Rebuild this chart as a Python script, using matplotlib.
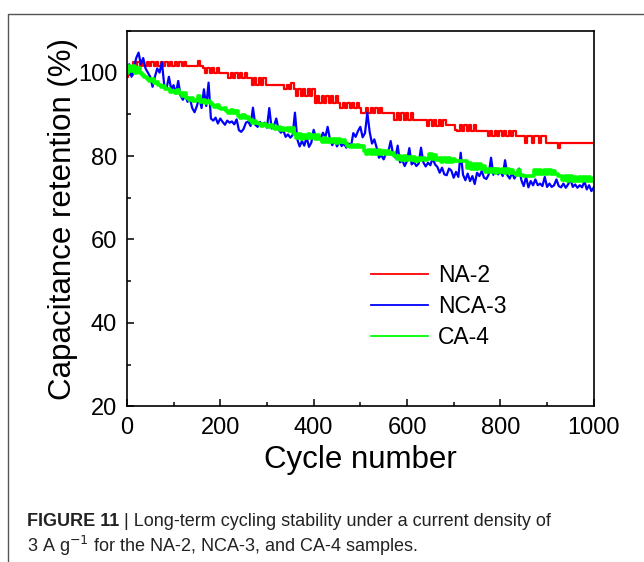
import matplotlib.pyplot as plt
import numpy as np
from matplotlib.lines import Line2D
from matplotlib.ticker import MultipleLocator

plt.rcParams['font.family'] = ['Liberation Sans', 'DejaVu Sans']

# cycle number, read every 5 cycles
cycles = np.arange(0, 1001, 5)

na2 = [
    99, 101, 99.5, 102.5, 101.5, 102.5, 101.5, 102.5, 101.5, 102.5,
    101.5, 102.5, 101.5, 102.5, 101.5, 102.5, 101.5, 102.5, 101.5, 102.5,
    101.5, 102.5, 101.5, 102.5, 101.5, 102.5, 101.5, 101.7, 101.7, 101.7,
    101.7, 102.8, 101.7, 101.2, 100, 101.2, 100, 101.2, 100, 101.2,
    100, 100, 100, 100, 98.6, 100, 98.6, 100, 98.6, 100,
    98.6, 100, 98.6, 98.6, 97, 98.6, 97, 98.6, 97, 98.6,
    97, 97.1, 97.1, 97.1, 97.1, 97.1, 97.1, 97.1, 96, 97,
    96, 97.6, 96, 94.5, 96, 94.5, 96, 94.5, 96, 94.5,
    96, 92.8, 94.5, 92.8, 94.5, 92.8, 94.5, 92.8, 94.5, 92.8,
    94.5, 92.8, 91.6, 92.8, 91.6, 92.8, 91.6, 92.8, 91.6, 92.8,
    91.6, 90.3, 90.4, 91.6, 90.4, 91.6, 90.4, 91.6, 90.4, 91.6,
    90.4, 90.4, 90.4, 90.4, 90.4, 88.7, 90.4, 88.7, 90.4, 88.7,
    90.4, 88.7, 90.4, 88.7, 88.7, 88.7, 88.7, 88.7, 88.7, 87.3,
    88.7, 87.3, 88.7, 87.3, 88.7, 87.3, 88.7, 87.5, 87.5, 87.5,
    87.5, 86.3, 85.9, 87.5, 85.9, 87.5, 85.9, 87.5, 85.9, 87.5,
    85.9, 85.9, 85.9, 85.9, 85.9, 84.7, 85.9, 84.7, 85.9, 84.7,
    85.9, 84.7, 85.9, 84.7, 85.9, 84.7, 85.9, 84.7, 84.7, 84.7,
    84.7, 83.2, 84.7, 84.7, 83.2, 84.7, 84.7, 83.2, 84.7, 84.7,
    83.2, 83.2, 83.2, 83.2, 83.2, 82, 83.2, 83.2, 83.2, 83.2,
    83.2, 83.2, 83.2, 83.2, 83.2, 83.2, 83.2, 83.2, 83.2, 83.2,
    83.2,
]

nca3 = [
    100.5, 102, 99, 101, 103.5, 104.8, 102, 103.5, 101, 100,
    99, 96.6, 99, 101, 100, 102.5, 97, 96.2, 99, 96,
    97, 95, 98, 94.5, 93.5, 94.5, 93, 93.8, 91.5, 90.5,
    92, 94, 91.5, 96, 92, 97.6, 89, 88.5, 89.2, 87.8,
    89, 88.2, 87.5, 88.5, 88, 88.3, 87.6, 88.8, 86.2, 85.8,
    86.5, 88, 88.3, 87.2, 91.6, 87.5, 87, 88.2, 87.2, 88,
    86.8, 91.5, 86.6, 87.2, 89, 86.3, 85.6, 86.2, 84.6, 85.2,
    84.4, 85, 90.4, 84, 82.3, 83.6, 82.5, 84.5, 82.2, 83.2,
    86.3, 84.4, 85, 84.2, 85.6, 84.5, 87, 84, 82.6, 84,
    82.3, 83.5, 82.4, 83, 82, 83, 82.3, 85.5, 84.6, 86,
    87, 84.5, 85.5, 90.4, 85.8, 83, 84, 82, 79.6, 80.2,
    79.2, 80.7, 81, 83.6, 80.5, 79.6, 82.5, 78.5, 79, 77.6,
    78.8, 81.9, 78, 78.6, 77.6, 78.2, 82, 78.5, 77.5, 78.4,
    77.8, 79.5, 78, 77.4, 76, 77.2, 75.6, 75.4, 77, 76.5,
    74.8, 76.2, 75, 80.8, 75.5, 74.2, 75.8, 74, 75.2, 73.3,
    76, 75.2, 76.4, 74.8, 74.5, 75.6, 79.6, 75.5, 77, 75.6,
    76.4, 75.2, 79, 75.4, 74.6, 76, 74.6, 75.6, 77, 74.2,
    72.8, 75, 72.5, 74, 73, 74.4, 73, 73.4, 72.8, 75,
    72.6, 73.4, 72.6, 73, 74.4, 72.8, 72.5, 73.4, 72.4, 73.2,
    74.5, 72.6, 73.2, 72.4, 73, 72.5, 74, 72, 73, 71.6,
    72.5,
]

ca4 = [
    100, 101.5, 100.5, 101.5, 100, 101, 100, 99.5, 99, 98.5,
    98, 98.5, 97.5, 97.8, 97, 96.5, 96.8, 96, 96, 95.3,
    95.5, 95.2, 95.8, 95.2, 94.5, 95, 94, 93.5, 93.8, 93.2,
    93.5, 94.5, 93, 93.5, 92.8, 93.3, 92.8, 92.2, 91.8, 92.3,
    91.6, 91.2, 91.6, 90.8, 90.4, 91, 90.4, 90.8, 89.6, 89.2,
    89.8, 89.2, 89.4, 88.6, 88, 88.5, 88, 87.8, 87.3, 87.8,
    87.2, 87, 87.5, 86.8, 86.6, 87, 86.3, 86.7, 86.3, 86.8,
    86, 86.8, 85.2, 84.4, 85.4, 84.2, 85, 84.4, 85.2, 84.3,
    85, 84.2, 85, 84, 83.4, 84.3, 83.3, 84.2, 83.3, 84.1,
    83.2, 84, 83.3, 83.8, 83.2, 82.5, 82.1, 82.7, 82.2, 82.6,
    82.1, 82.5, 81.3, 80.6, 81.5, 80.5, 81.4, 80.4, 81.4, 80.5,
    81.3, 80.4, 81.2, 80.4, 80.8, 80, 79.2, 80, 79.1, 79.9,
    79, 79.8, 79, 79.7, 78.9, 79.6, 79, 79.6, 79, 79.4,
    80.5, 79.2, 80.3, 79, 79.6, 78.5, 79.5, 78.6, 79.5, 78.5,
    79.4, 78.7, 78.7, 78.7, 78.7, 78.7, 77.2, 78.4, 76.8, 78.2,
    77, 78, 76.8, 77.5, 76.2, 77, 76.1, 76.9, 76, 76.9,
    76.1, 76.8, 76, 76.8, 76, 76.7, 76, 75.5, 76.7, 75.4,
    75.3, 75.3, 75.3, 75.3, 75.3, 76.7, 75.7, 76.7, 75.7, 76.7,
    75.7, 76.6, 75.7, 76.5, 75.7, 75.3, 75.3, 74.2, 75.2, 74,
    75.1, 74, 75, 74, 75, 73.9, 75, 74, 75, 74,
    74.8,
]

fig = plt.figure(figsize=(6.44, 5.62), dpi=100)
ax = fig.add_axes([0.197, 0.277, 0.725, 0.668])

ax.plot(cycles, na2, color='#ff0000', lw=1.6, drawstyle='steps-mid', label='NA-2')
ax.plot(cycles, nca3, color='#0000ff', lw=1.6, label='NCA-3')
ax.plot(cycles, ca4, color='#00ff00', lw=2.6, drawstyle='steps-mid', label='CA-4')

ax.set_xlim(0, 1000)
ax.set_ylim(20, 110)
ax.xaxis.set_major_locator(MultipleLocator(200))
ax.xaxis.set_minor_locator(MultipleLocator(100))
ax.yaxis.set_major_locator(MultipleLocator(20))
ax.yaxis.set_minor_locator(MultipleLocator(10))
ax.tick_params(which='both', direction='in', top=False, right=False, labelsize=17, width=1.1)
ax.tick_params(which='major', length=5)
ax.tick_params(which='minor', length=3)
ax.tick_params(axis='x', pad=8)
ax.tick_params(axis='y', pad=7)
for s in ax.spines.values():
    s.set_linewidth(1.2)

ax.set_xlabel('Cycle number', fontsize=22.5, labelpad=4)
ax.set_ylabel('Capacitance retention (%)', fontsize=22.5, labelpad=0)

leg = ax.legend(loc='upper left', bbox_to_anchor=(0.522, 0.378), frameon=False, fontsize=16.5,
                handlelength=2.5, handletextpad=0.45, labelspacing=0.33, borderpad=0, borderaxespad=0)
for h in leg.get_lines():
    h.set_linewidth(1.3)

# frame around figure panel
fig.add_artist(Line2D([8 / 644, 8 / 644, 1.0], [0.0, 1 - 14 / 562, 1 - 14 / 562],
                      transform=fig.transFigure, color='#555555', lw=1.0))

cap_color = '#222222'
t1 = fig.text(27 / 644, 1 - 522 / 562, 'FIGURE 11', fontsize=13, fontweight='bold',
              color=cap_color, va='center')
fig.canvas.draw()
bb = t1.get_window_extent()
fig.text(bb.x1 / fig.bbox.width, 1 - 522 / 562,
         ' | Long-term cycling stability under a current density of',
         fontsize=13, color=cap_color, va='center')
fig.text(27 / 644, 1 - 546 / 562, '3 A g$^{-1}$ for the NA-2, NCA-3, and CA-4 samples.',
         fontsize=13, color=cap_color, va='center')

fig.savefig('out.png', dpi=100)
